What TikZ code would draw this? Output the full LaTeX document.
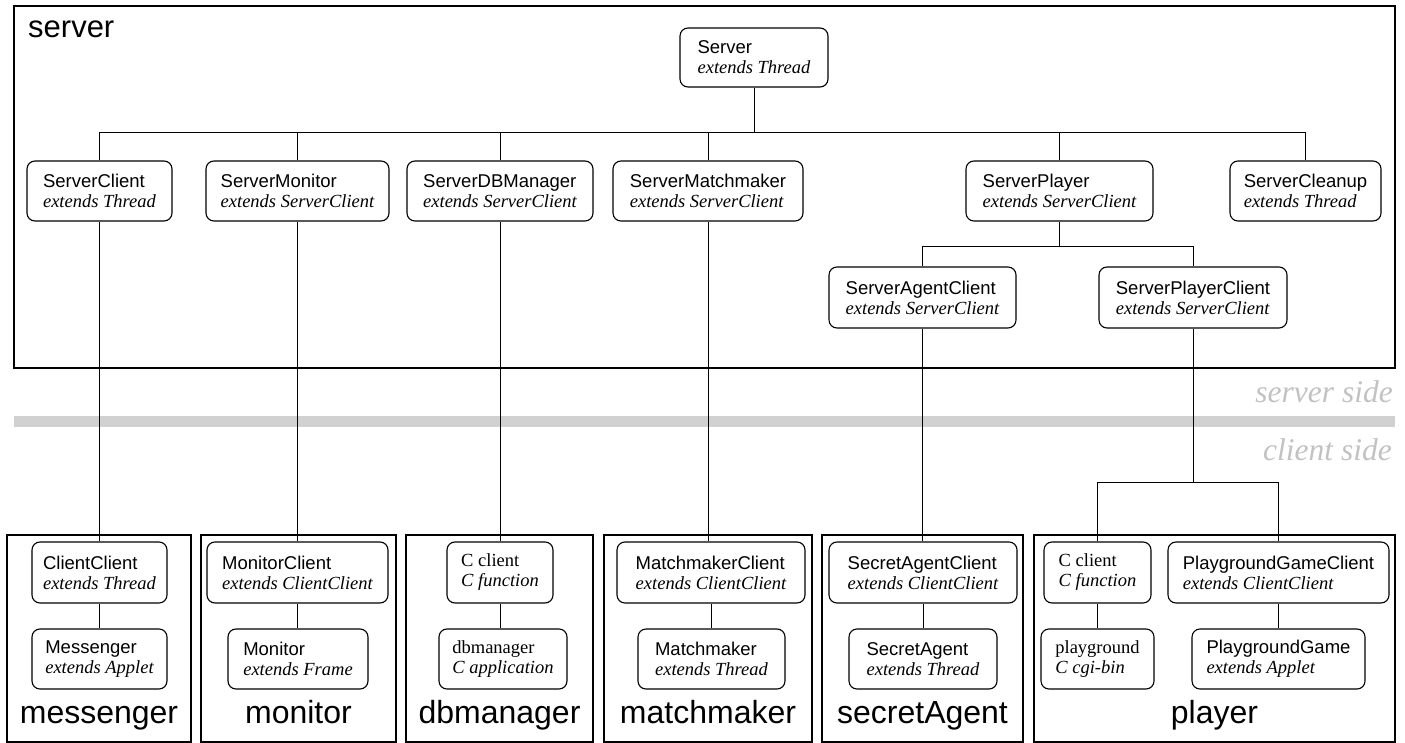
\documentclass[tikz,border=0pt]{standalone}
\usepackage{fontspec}
\setmainfont{Liberation Serif}
\setsansfont{Liberation Sans}
\definecolor{bandgray}{gray}{0.82}
\definecolor{sidegray}{gray}{0.76}
\newcommand\clsx[2]{{\sffamily #1}\\{\itshape #2}}
\newcommand\clsc[2]{{#1}\\{\itshape #2}}
\begin{document}
\begin{tikzpicture}[x=1pt,y=-1pt,
  cls/.style={draw, rounded corners=8pt, line width=1.1pt, inner xsep=0pt, inner ysep=0pt,
    minimum height=60pt, align=left, font=\fontsize{18.5}{20}\selectfont},
  conn/.style={line width=1pt},
  box/.style={draw, line width=1.4pt},
  lab/.style={font=\sffamily\fontsize{32}{36}\selectfont, anchor=base},
  side/.style={font=\itshape\fontsize{31.5}{34}\selectfont, text=sidegray, anchor=base east}]
\useasboundingbox (0,0) rectangle (1405,743);

% server container and separator
\draw[box] (14,6) rectangle (1395,368);
\node[font=\sffamily\fontsize{31}{34}\selectfont, anchor=base west, inner sep=0pt] (lserver) at (28,38) {server};
\fill[bandgray] (14,416) rectangle (1395,427);
\node[side, inner sep=0pt] (sside) at (1393,402) {server side};
\node[side, inner sep=0pt] (cside) at (1392,460) {client side};

% client containers
\draw[box] (7,535) rectangle (191,742);
\draw[box] (201,535) rectangle (396,742);
\draw[box] (406,535) rectangle (593,742);
\draw[box] (604,535) rectangle (812,742);
\draw[box] (822,535) rectangle (1023,742);
\draw[box] (1034,535) rectangle (1395,742);
\node[lab] (lmes) at (99,723) {messenger};
\node[lab] (lmon) at (298.5,723) {monitor};
\node[lab] (ldb) at (499.5,723) {dbmanager};
\node[lab] (lmm) at (708,723) {matchmaker};
\node[lab] (lsa) at (922.5,723) {secretAgent};
\node[lab] (lpl) at (1214.5,723) {player};

% server classes
\node[cls, minimum width=148pt, minimum height=59pt] (S) at (754,57.5) {\clsx{Server}{extends Thread}};
\node[cls, minimum width=145pt] (SC) at (99.5,191) {\clsx{ServerClient}{extends Thread}};
\node[cls, minimum width=183pt] (SMo) at (297.5,191) {\clsx{ServerMonitor}{extends ServerClient}};
\node[cls, minimum width=186pt] (SDB) at (500,191) {\clsx{ServerDBManager}{extends ServerClient}};
\node[cls, minimum width=190pt] (SMm) at (708,191) {\clsx{ServerMatchmaker}{extends ServerClient}};
\node[cls, minimum width=187pt] (SP) at (1059.5,191) {\clsx{ServerPlayer}{extends ServerClient}};
\node[cls, minimum width=151pt] (SCl) at (1305.5,191) {\clsx{ServerCleanup}{extends Thread}};
\node[cls, minimum width=187pt, minimum height=61pt] (SAC) at (922.5,297.5) {\clsx{ServerAgentClient}{extends ServerClient}};
\node[cls, minimum width=188pt, minimum height=61pt] (SPC) at (1193,297.5) {\clsx{ServerPlayerClient}{extends ServerClient}};

% client classes
\node[cls, minimum width=135pt, minimum height=61pt] (CC) at (99.5,572.5) {\clsx{ClientClient}{extends Thread}};
\node[cls, minimum width=135pt] (Me) at (99.5,659) {\clsx{Messenger}{extends Applet}};
\node[cls, minimum width=181pt, minimum height=61pt] (MoC) at (297.5,572.5) {\clsx{MonitorClient}{extends ClientClient}};
\node[cls, minimum width=140pt] (Mo) at (298,659) {\clsx{Monitor}{extends Frame}};
\node[cls, minimum width=106pt, minimum height=61pt] (Cdb) at (500,572.5) {\clsc{C client}{C function}};
\node[cls, minimum width=128pt] (Db) at (503,659) {\clsc{dbmanager}{C application}};
\node[cls, minimum width=188pt, minimum height=61pt] (MmC) at (711,572.5) {\clsx{MatchmakerClient}{extends ClientClient}};
\node[cls, minimum width=147pt] (Mm) at (711.5,659) {\clsx{Matchmaker}{extends Thread}};
\node[cls, minimum width=188pt, minimum height=61pt] (SeAC) at (923,572.5) {\clsx{SecretAgentClient}{extends ClientClient}};
\node[cls, minimum width=148pt] (SeA) at (923,659) {\clsx{SecretAgent}{extends Thread}};
\node[cls, minimum width=107pt, minimum height=61pt] (Cpl) at (1097.5,572.5) {\clsc{C client}{C function}};
\node[cls, minimum width=113pt] (Pg) at (1097.5,659) {\clsc{playground}{C cgi-bin}};
\node[cls, minimum width=221pt, minimum height=61pt] (PGC) at (1278.5,572.5) {\clsx{PlaygroundGameClient}{extends ClientClient}};
\node[cls, minimum width=173pt] (PG) at (1278.5,659) {\clsx{PlaygroundGame}{extends Applet}};

% connectors
\coordinate (b1) at (0,133);
\coordinate (b2) at (0,247);
\coordinate (b3) at (0,482);
\draw[conn] (S.south) -- (S.south |- b1);
\draw[conn] (SC.north) |- (b1 -| SCl.north) -- (SCl.north);
\foreach \n in {SMo,SDB,SMm,SP} \draw[conn] (\n.north) -- (\n.north |- b1);
\draw[conn] (SP.south) -- (SP.south |- b2);
\draw[conn] (SAC.north) |- (b2 -| SPC.north) -- (SPC.north);
\draw[conn] (SC.south) -- (SC.south |- CC.north);
\draw[conn] (SMo.south) -- (SMo.south |- MoC.north);
\draw[conn] (SDB.south) -- (SDB.south |- Cdb.north);
\draw[conn] (SMm.south) -- (SMm.south |- MmC.north);
\draw[conn] (SAC.south) -- (SAC.south |- SeAC.north);
\draw[conn] (SPC.south) -- (SPC.south |- b3);
\draw[conn] (Cpl.north) |- (b3 -| PGC.north) -- (PGC.north);
\draw[conn] (CC.south) -- (CC.south |- Me.north);
\draw[conn] (MoC.south) -- (MoC.south |- Mo.north);
\draw[conn] (Cdb.south) -- (Cdb.south |- Db.north);
\draw[conn] (MmC.south) -- (MmC.south |- Mm.north);
\draw[conn] (SeAC.south) -- (SeAC.south |- SeA.north);
\draw[conn] (Cpl.south) -- (Cpl.south |- Pg.north);
\draw[conn] (PGC.south) -- (PGC.south |- PG.north);
\end{tikzpicture}
\end{document}
